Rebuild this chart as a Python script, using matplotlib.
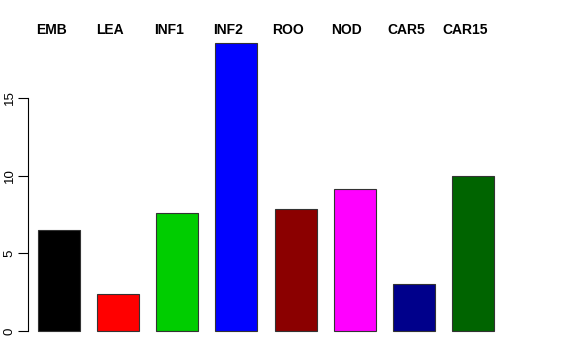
import numpy as np
import matplotlib.pyplot as plt

# data
tissues = ['EMB', 'LEA', 'INF1', 'INF2', 'ROO', 'NOD', 'CAR5', 'CAR15']
values = [6.5, 2.38, 7.6, 18.55, 7.86, 9.14, 3.03, 9.98]
colors = ['black', 'red', '#00CD00', 'blue', '#8B0000', 'magenta', '#00008B', '#006400']

plt.rcParams['font.family'] = ['Liberation Sans', 'DejaVu Sans']

fig = plt.figure(figsize=(5.76, 3.6), dpi=100)
ax = fig.add_axes([28/576, 17.5/360, (504-28)/576, (342.5-31.4)/360])

x = np.arange(len(tissues))
ax.bar(x, values, width=0.71, color=colors, edgecolor='#333333', linewidth=0.8)

ax.set_xlim(-0.524, 7.524)
ax.set_ylim(-0.74, 19.29)

# labels on top
for xi, name in zip(x, tissues):
    ax.text(xi - 0.135, 19.4, name, ha='center', va='center',
            fontsize=10, fontweight='bold', clip_on=False)

# R style axis
for s in ['top', 'right', 'bottom']:
    ax.spines[s].set_visible(False)
ax.spines['left'].set_bounds(0, 15)
ax.spines['left'].set_linewidth(0.8)
ax.set_xticks([])
ax.set_yticks([0, 5, 10, 15])
ax.set_yticklabels(['0', '5', '10', '15'], rotation=90, va='center', fontsize=9.5)
ax.tick_params(axis='y', length=7, width=0.8, pad=2)

fig.savefig('out.png', dpi=100)
